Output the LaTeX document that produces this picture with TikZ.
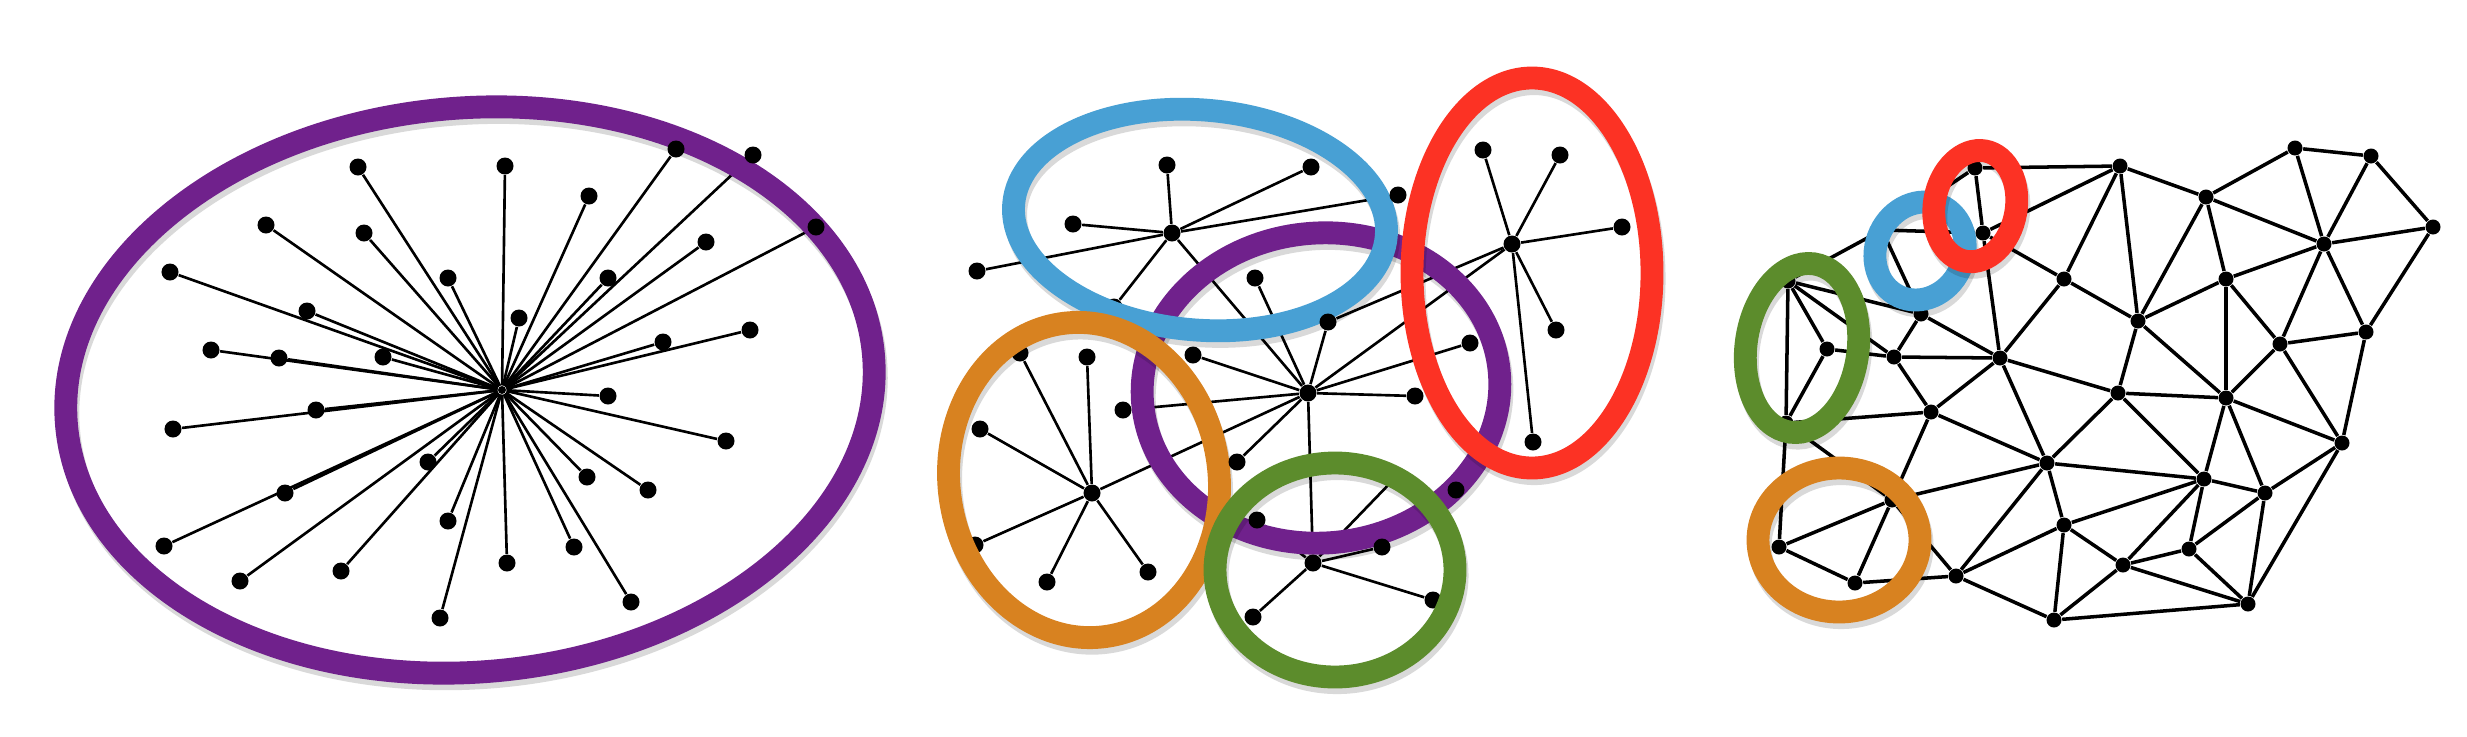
\documentclass[tikz,border=0pt]{standalone}
\usetikzlibrary{calc}
\pgfdeclarelayer{back}
\pgfdeclarelayer{edges}
\pgfdeclarelayer{low}
\pgfdeclarelayer{rings}
\pgfsetlayers{back,edges,low,rings,main}

\definecolor{ringpurple}{RGB}{112,33,140}
\definecolor{ringblue}{RGB}{72,160,212}
\definecolor{ringred}{RGB}{252,50,36}
\definecolor{ringorange}{RGB}{216,130,32}
\definecolor{ringgreen}{RGB}{92,140,44}

\tikzset{
  dot/.style={circle, fill=black, inner sep=0pt, minimum size=0.17cm},
  meshdot/.style={circle, fill=black, inner sep=0pt, minimum size=0.15cm},
  hubdot/.style={circle, fill=black, inner sep=0pt, minimum size=0.08cm},
  spoke/.style={line width=0.75pt},
  mesh/.style={line width=1pt},
  ring/.style={line width=6.5pt,
    preaction={draw=black, opacity=0.15, line width=6.5pt,
      transform canvas={shift={(0.6pt,-1.6pt)}}}},
}

\begin{document}
\begin{tikzpicture}[x=0.01cm, y=-0.01cm]
    \begin{pgfonlayer}{back}
      \fill[white] (0,0) rectangle (2467,736);
    \end{pgfonlayer}
    \useasboundingbox (0,0) rectangle (2467,736);

    % the single star
    \node[hubdot] (hub) at (502,390) {};
    \foreach \n/\x/\y in {1/358/167, 2/266/225, 3/364/233, 4/170/272, 5/448/278,
        6/307/311, 7/211/350, 8/279/358, 9/383/357, 10/316/410, 11/173/429,
        12/428/462, 13/285/493, 14/676/149, 15/753/155, 16/505/166, 17/589/196,
        18/816/227, 19/706/242, 20/608/278, 21/519/318, 22/750/330, 23/663/342,
        24/608/396, 25/726/441, 26/587/477, 27/648/490, 28/164/546, 29/240/581,
        30/341/571, 31/448/521, 32/440/618, 33/574/547, 34/507/563, 35/631/602}
      \node[dot] (s\n) at (\x,\y) {};
    \begin{pgfonlayer}{edges}
      \foreach \n in {1,...,35} \draw[spoke] (hub) -- (s\n);
    \end{pgfonlayer}
    \begin{pgfonlayer}{rings}
      \coordinate (starc) at (470,390);
      \draw[ring, ringpurple, rotate around={5:(starc)}] (starc) ellipse [x radius=405, y radius=282];
    \end{pgfonlayer}

    % the five stars
    \node[dot] (bh) at (1172,233) {};
    \node[dot] (rh) at (1512,244) {};
    \node[dot] (ph) at (1308,393) {};
    \node[dot] (oh) at (1092,493) {};
    \node[dot] (gh) at (1313,563) {};
    \foreach \n/\x/\y in {b1/1167/165, b2/1311/167, b3/1073/224, b4/977/271, b5/1398/195,
        r1/1483/150, r2/1560/155, r3/1622/227, r4/1556/330, r5/1533/442,
        p1/1255/278, p2/1328/322, p3/1193/355, p4/1123/410, p5/1237/462,
        p6/1415/396, p7/1470/343, p8/1456/490,
        o1/980/429, o3/1047/582, o4/1148/572, o5/1087/357,
        g1/1257/520, g2/1382/547, g5/1253/617}
      \node[dot] (\n) at (\x,\y) {};
    \begin{pgfonlayer}{low}
      \foreach \n/\x/\y in {b6/1114/307, o2/975/545, o6/1020/353, g3/1395/478, g4/1433/600}
        \node[dot] (\n) at (\x,\y) {};
    \end{pgfonlayer}
    \begin{pgfonlayer}{edges}
      \foreach \n in {b1,b2,b3,b4,b5,b6,ph} \draw[spoke] (bh) -- (\n);
      \foreach \n in {r1,r2,r3,r4,r5,p2,ph} \draw[spoke] (rh) -- (\n);
      \foreach \n in {p1,p2,p3,p4,p5,p6,p7,oh,gh} \draw[spoke] (ph) -- (\n);
      \foreach \n in {o1,o2,o3,o4,o5,o6} \draw[spoke] (oh) -- (\n);
      \foreach \n in {g1,g2,g3,g4,g5} \draw[spoke] (gh) -- (\n);
    \end{pgfonlayer}
    \begin{pgfonlayer}{rings}
      \coordinate (purplec) at (1321,388);
      \coordinate (bluec) at (1200,220);
      \coordinate (redc) at (1532,273);
      \coordinate (orangec) at (1084,480);
      \coordinate (greenc) at (1335,570);
      \draw[ring, ringpurple, rotate around={5:(purplec)}] (purplec) ellipse [x radius=179, y radius=155];
      \draw[ring, ringblue, rotate around={-5:(bluec)}] (bluec) ellipse [x radius=187, y radius=110];
      \draw[ring, ringred] (redc) ellipse [x radius=120, y radius=195];
      \draw[ring, ringorange, rotate around={8:(orangec)}] (orangec) ellipse [x radius=135, y radius=158];
      \draw[ring, ringgreen] (greenc) ellipse [x radius=120, y radius=107];
    \end{pgfonlayer}

    % the mesh
    \begin{pgfonlayer}{low}
      \foreach \n/\x/\y in {A/1975/168, B/1983/233, C/2120/166, D/2295/148, E/2371/156,
          F/2206/197, G/2433/227, H/2324/244, I/2064/279, J/2226/279, K/2138/321,
          L/1921/314, M/1788/281, N/1827/349, O/1894/357, P/2000/358, Q/2280/344,
          R/2366/332, S/2118/393, T/2226/398, U/1931/412, V/1786/423, W/2342/443,
          X/2047/463, Y/2204/479, Z/2265/493, AA/2064/525, AB/1779/547, AC/1855/583,
          AD/1956/576, AE/2189/549, AF/2123/565, AG/2248/604, AH/2054/620,
          AI/1892/500, HB/1882/230}
        \node[meshdot] (v\n) at (\x,\y) {};
    \end{pgfonlayer}
    \begin{pgfonlayer}{edges}
      \foreach \a/\b in {A/C, A/B, A/HB, B/HB, B/C, B/I, B/P, C/I, C/K, C/F, F/D, F/K,
          F/J, F/H, D/H, D/E, E/H, E/G, G/H, G/R, H/J, H/Q, H/R, J/K, J/Q, J/T,
          K/I, K/S, K/T, Q/R, Q/T, Q/W, R/W, T/W, T/S, T/Y, T/Z, W/Z, W/AG, Z/AG,
          Z/Y, Y/AE, Z/AE, AE/AG, AE/AF, AF/AG, AF/AA, AF/Y, AF/AH, AG/AH, AA/AH,
          AA/X, AA/Y, AA/AD, AD/AH, AD/X, X/S, X/Y, S/Y, S/P, P/I, P/X, P/U, P/O,
          P/L, L/O, L/M, L/HB, HB/M, M/N, M/O, M/V, N/O, N/V, O/U, V/U, V/AI, V/AB,
          U/AI, U/X, AI/X, AI/AB, AI/AC, AB/AC, AC/AD, AD/AI}
        \draw[mesh] (v\a) -- (v\b);
    \end{pgfonlayer}
    \begin{pgfonlayer}{rings}
      \coordinate (mbluec) at (1920,251);
      \coordinate (mredc) at (1975,206);
      \coordinate (mgreenc) at (1802,348);
      \coordinate (morangec) at (1839,540);
      \draw[ring, ringblue, rotate around={-25:(mbluec)}] (mbluec) ellipse [x radius=44, y radius=50];
      \draw[ring, ringred, rotate around={-10:(mredc)}] (mredc) ellipse [x radius=41, y radius=56];
      \draw[ring, ringgreen, rotate around={-8:(mgreenc)}] (mgreenc) ellipse [x radius=56, y radius=85];
      \draw[ring, ringorange] (morangec) ellipse [x radius=81, y radius=72];
    \end{pgfonlayer}
\end{tikzpicture}
\end{document}
